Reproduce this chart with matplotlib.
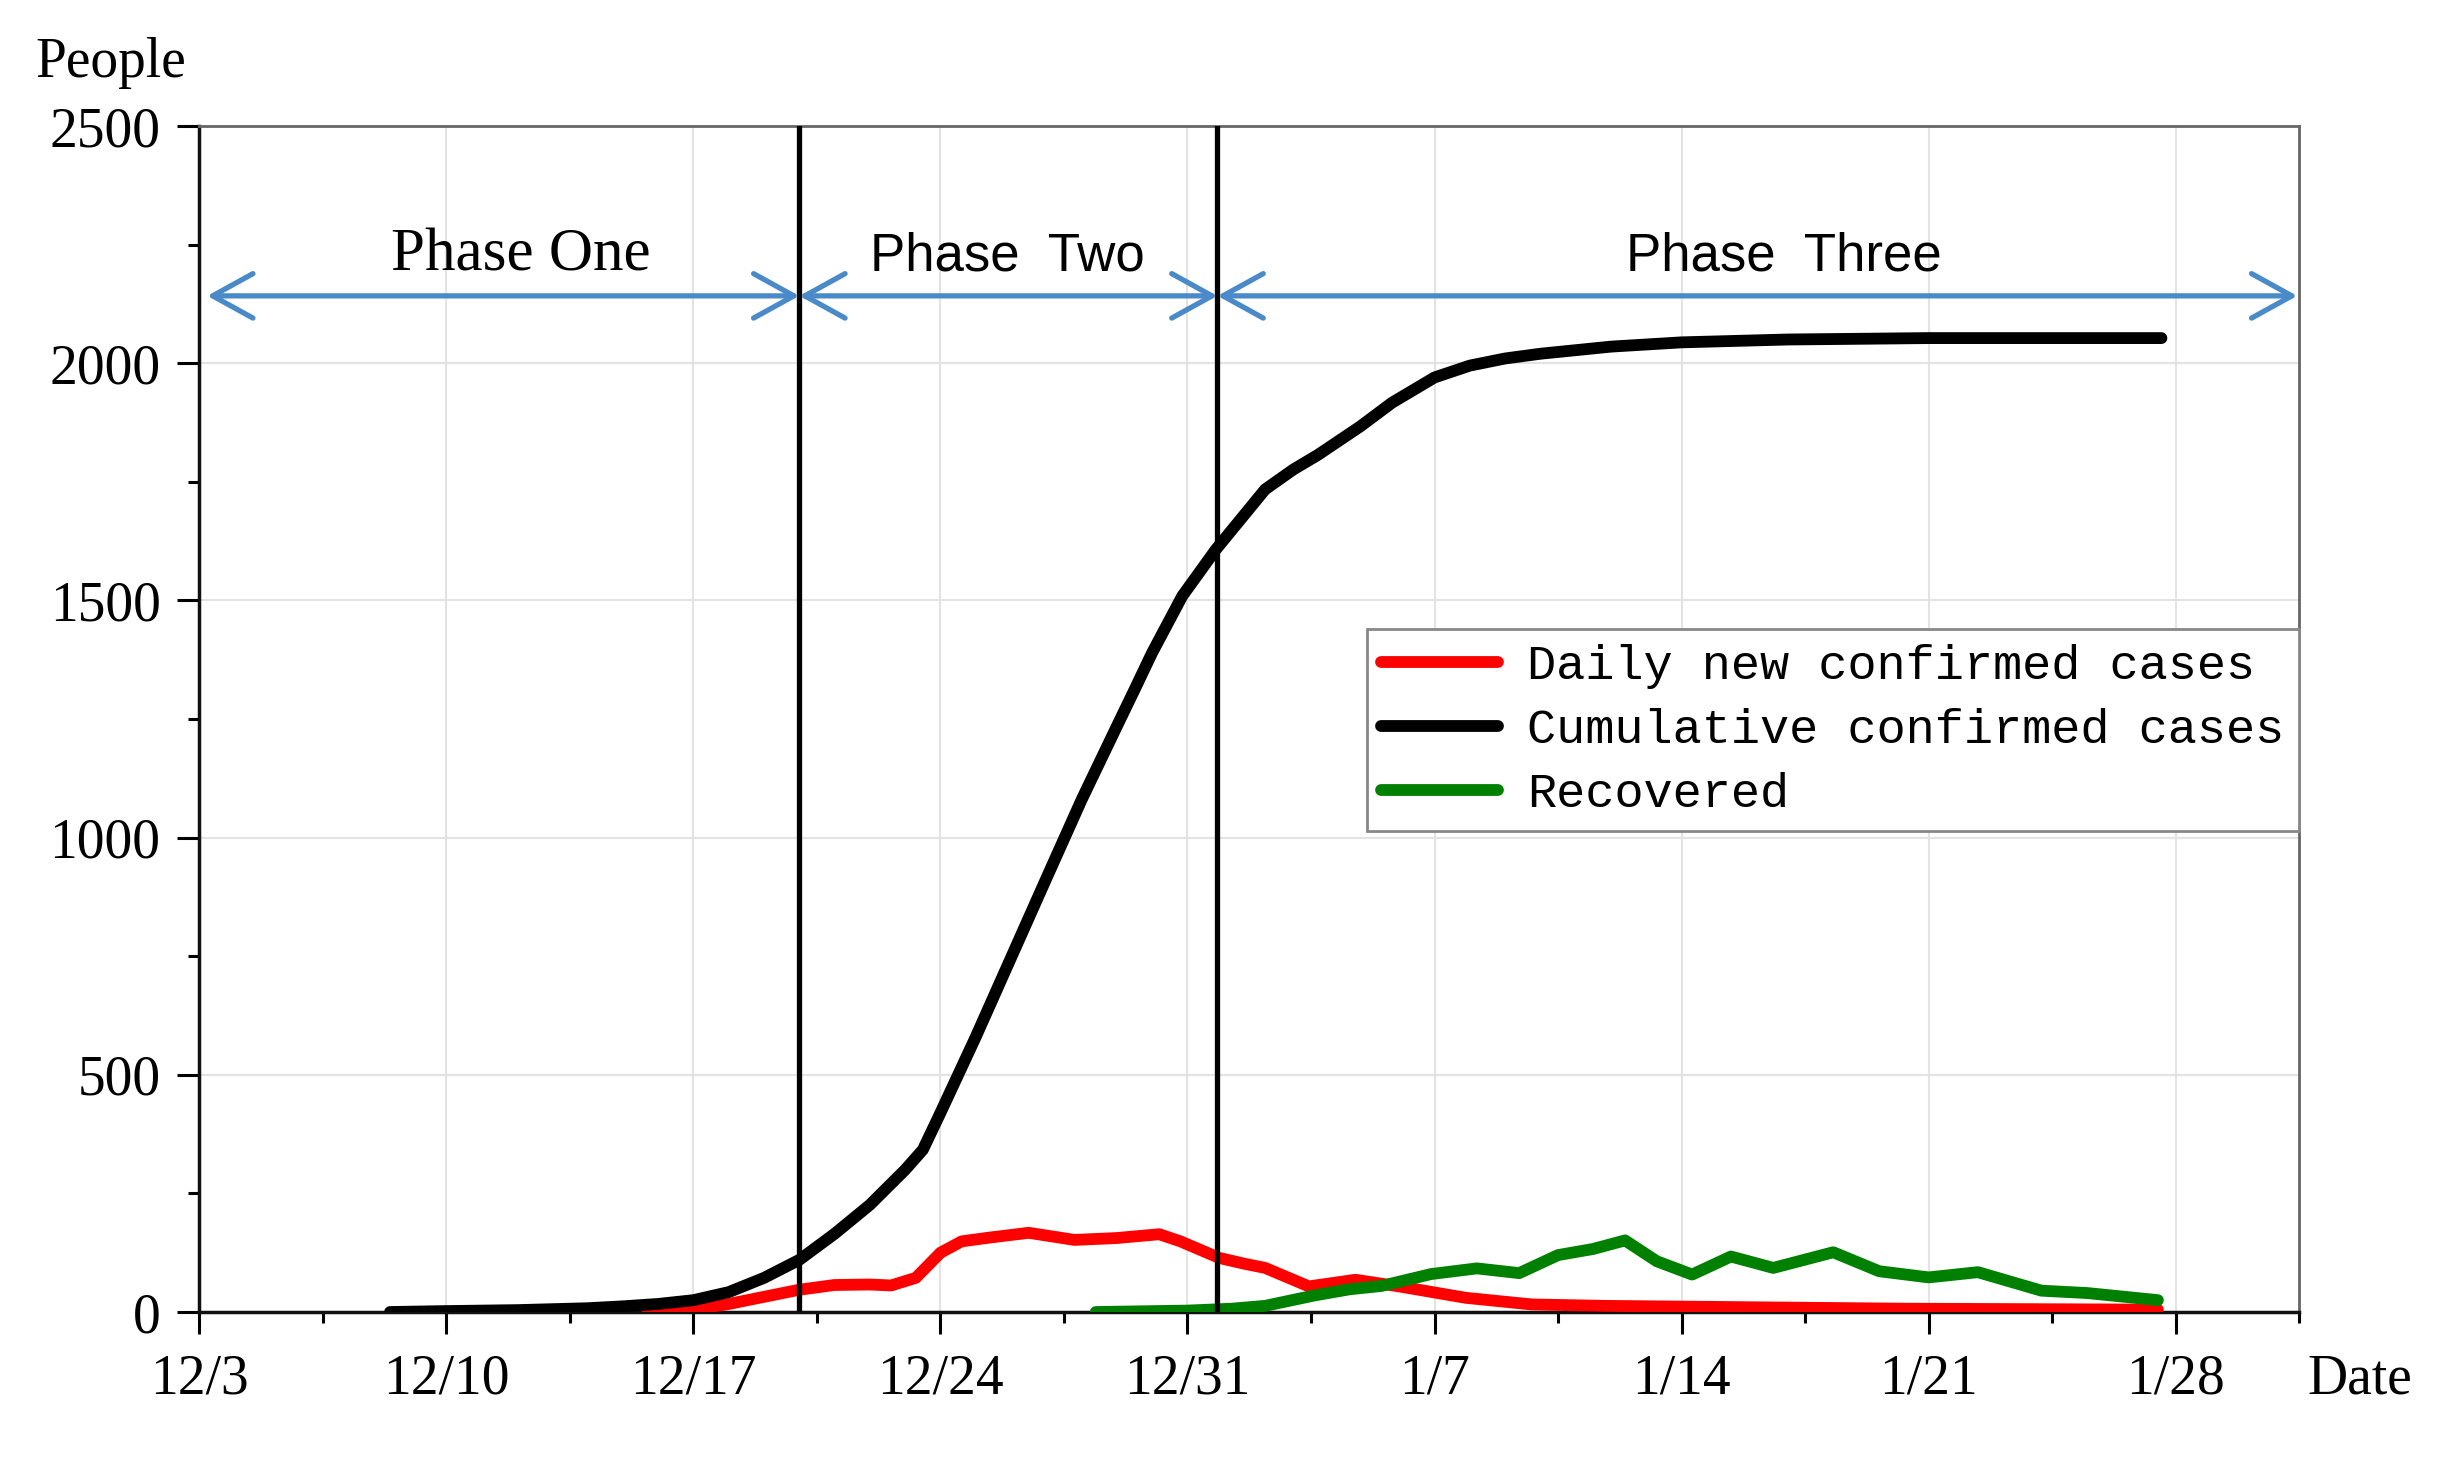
import matplotlib
matplotlib.use('Agg')
import matplotlib.pyplot as plt
from matplotlib.ticker import FixedLocator, MultipleLocator
from matplotlib.font_manager import FontProperties

# x is counted in days from 12/3
tick_days = [0, 7, 14, 21, 28, 35, 42, 49, 56]
tick_labels = ['12/3', '12/10', '12/17', '12/24', '12/31', '1/7', '1/14', '1/21', '1/28']

# cumulative confirmed cases
cum_days = [5.4, 7, 9, 11, 12, 13, 14, 15, 16, 17, 18, 19, 20, 20.5, 21, 22, 23, 24, 25,
            26, 26.5, 27, 27.85, 28.8, 30.2, 31, 31.7, 32.9, 33.8, 35, 36, 37, 38, 40, 42,
            45, 49, 55.6]
cum_vals = [0, 2, 4, 8, 12, 17, 25, 42, 72, 110, 165, 226, 300, 342, 420, 580, 747, 914, 1080,
            1235, 1312, 1390, 1509, 1607, 1734, 1776, 1807, 1867, 1917, 1970, 1995, 2010, 2020,
            2035, 2044, 2050, 2053, 2053]

# daily new confirmed cases
new_days = [12.7, 14, 15, 16, 17, 18, 19, 19.6, 20.3, 21, 21.6, 22.4, 23.5, 24.8, 26, 27.2,
            27.8, 28.9, 29.6, 30.2, 31.44, 32.76, 34, 35.88, 37.75, 39.8, 44, 48.4, 55.5]
new_vals = [0, 5, 17, 32, 47, 57, 58, 56, 72, 125, 149, 157, 167, 152, 156, 164,
            149, 114, 102, 93, 54, 68, 54, 30, 16, 13, 10, 7, 5]

# recovered
rec_days = [25.4, 28, 29.25, 30.2, 31.6, 32.6, 33.5, 34.9, 36.2, 37.4, 38.5, 39.5, 40.4, 41.3,
            42.3, 43.4, 44.6, 46.3, 47.6, 49, 50.4, 52.2, 53.5, 55.5]
rec_vals = [0, 3, 7, 13, 35, 48, 55, 80, 92, 82, 120, 133, 151, 107,
            79, 117, 93, 126, 86, 73, 84, 45, 40, 25]

phase_bounds = [0.22, 17, 28.85, 59.45]
phase_names = ['Phase One', 'Phase Two', 'Phase Three']


def main():
    plt.rcParams['font.family'] = 'Liberation Serif'
    fig = plt.figure(figsize=(24.44, 14.57), dpi=100)
    ax = fig.add_axes([0.0816, 0.0995, 0.8591, 0.814])

    line_kw = dict(lw=8.5, solid_joinstyle='round', solid_capstyle='round', zorder=3)
    ax.plot(new_days, new_vals, color='#ff0000', label='Daily new confirmed cases', **line_kw)
    ax.plot(cum_days, cum_vals, color='black', label='Cumulative confirmed cases', **line_kw)
    ax.plot(rec_days, rec_vals, color='#008000', label='Recovered', **line_kw)

    # phase boundaries
    for d in phase_bounds[1:3]:
        ax.axvline(d, color='black', lw=3.8, zorder=4)

    # phase arrows + labels
    arrow_y = 2142
    label_x = [9.1, 22.9, 44.9]
    label_font = ['Liberation Serif', 'Liberation Sans', 'Liberation Sans']
    label_size = [44, 38, 38]
    for i, name in enumerate(phase_names):
        ax.annotate('', xy=(phase_bounds[i + 1], arrow_y), xytext=(phase_bounds[i], arrow_y),
                    arrowprops=dict(arrowstyle='<->,head_length=2.9,head_width=1.6',
                                    color='#4a8ac8', lw=3.8, shrinkA=0, shrinkB=0,
                                    mutation_scale=10), zorder=5)
        txt = name if i == 0 else name.replace(' ', '  ')
        ax.text(label_x[i], 2226, txt, ha='center', va='center', family=label_font[i],
                fontsize=label_size[i], zorder=5)

    ax.set_xlim(0, 59.5)
    ax.set_ylim(0, 2500)
    ax.xaxis.set_major_locator(FixedLocator(tick_days))
    ax.set_xticklabels(tick_labels)
    ax.xaxis.set_minor_locator(MultipleLocator(3.5))
    ax.yaxis.set_major_locator(MultipleLocator(500))
    ax.yaxis.set_minor_locator(MultipleLocator(250))
    ax.tick_params(which='major', direction='out', length=16, width=2.2, pad=12, labelsize=40)
    ax.tick_params(which='minor', direction='out', length=8, width=2.2)
    ax.tick_params(axis='x', which='major', pad=14)

    ax.grid(True, which='major', color='#e3e3e3', lw=1.5)
    ax.set_axisbelow(True)

    for side in ['left', 'bottom']:
        ax.spines[side].set_color('#111111')
        ax.spines[side].set_linewidth(2.5)
    for side in ['top', 'right']:
        ax.spines[side].set_color('#666666')
        ax.spines[side].set_linewidth(2.0)

    leg = ax.legend(loc='upper right', bbox_to_anchor=(1.0, 0.5756), borderaxespad=0,
                    prop=FontProperties(family='Liberation Mono', size=35),
                    fancybox=False, edgecolor='#888888', framealpha=1,
                    handlelength=2.4, handletextpad=0.6, borderpad=0.3, labelspacing=0.39)
    leg.get_frame().set_linewidth(2)

    fig.text(0.0454, 0.957, 'People', ha='center', va='center', fontsize=40)
    fig.text(0.9657, 0.0532, 'Date', ha='center', va='center', fontsize=40)

    fig.savefig('out.png', dpi=100)


if __name__ == "__main__":
    main()
